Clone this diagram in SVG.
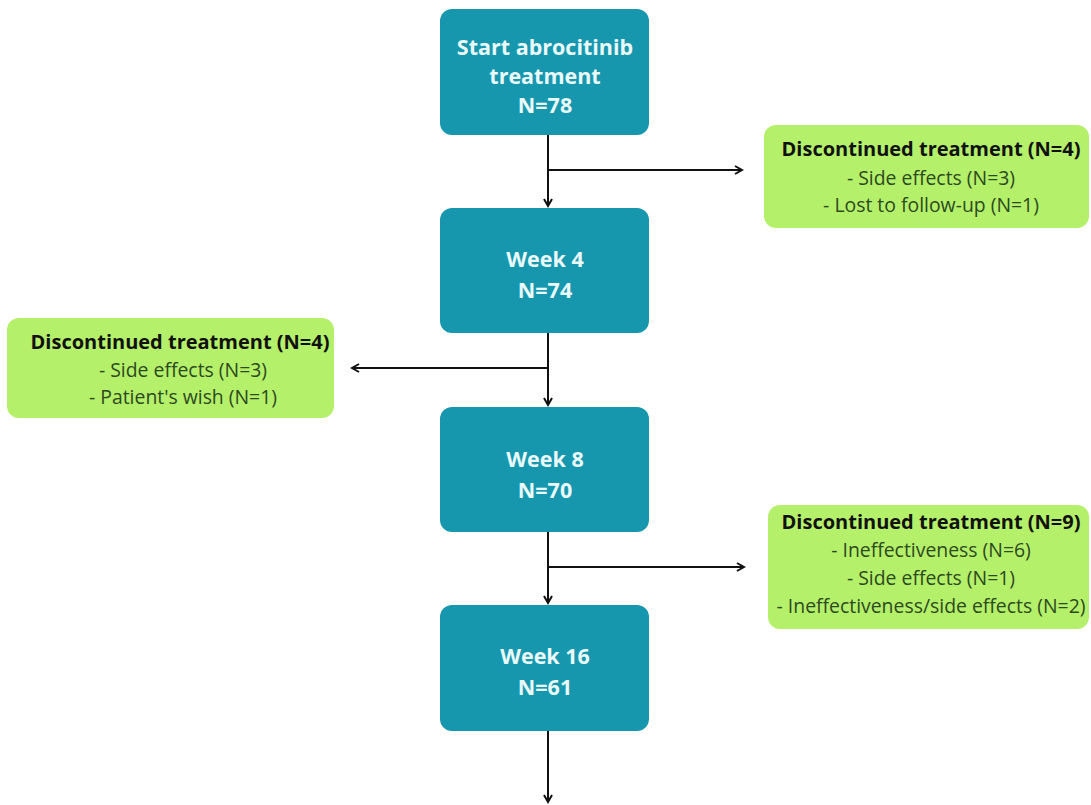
<svg xmlns="http://www.w3.org/2000/svg" width="1091" height="805" viewBox="0 0 1091 805">
<style>
.main rect{fill:#1797ae;}
.main text{font-family:"Open Sans","Liberation Sans",sans-serif;font-weight:bold;font-size:21.5px;fill:#eafafa;text-anchor:middle;}
.side rect{fill:#b5f06b;}
.side text{font-family:"Open Sans","Liberation Sans",sans-serif;font-size:19.4px;fill:#2c4a1e;text-anchor:middle;}
.side text.t{font-weight:bold;fill:#111;font-size:20px;}
.conn line{stroke:#111;stroke-width:2;fill:none;}
</style>
<defs>
<marker id="ah" markerWidth="10" markerHeight="10" refX="8" refY="5" orient="auto" markerUnits="userSpaceOnUse">
<path d="M1,1 L8,5 L1,9" fill="none" stroke="#111" stroke-width="2"/>
</marker>
</defs>
<rect width="1091" height="805" fill="#ffffff"/>
<g class="conn">
<line x1="548" y1="135" x2="548" y2="206" marker-end="url(#ah)"/>
<line x1="548" y1="170" x2="742" y2="170" marker-end="url(#ah)"/>
<line x1="548" y1="333" x2="548" y2="405" marker-end="url(#ah)"/>
<line x1="548" y1="368" x2="352" y2="368" marker-end="url(#ah)"/>
<line x1="548" y1="532" x2="548" y2="603" marker-end="url(#ah)"/>
<line x1="548" y1="567" x2="744" y2="567" marker-end="url(#ah)"/>
<line x1="548" y1="731" x2="548" y2="802" marker-end="url(#ah)"/>
</g>
<g id="n1" class="main"><rect x="440" y="9" width="209" height="126" rx="12"/>
<text x="545" y="55">Start abrocitinib</text><text x="545" y="84">treatment</text><text x="545" y="113">N=78</text></g>
<g id="n2" class="main"><rect x="440" y="208" width="209" height="125" rx="12"/>
<text x="545" y="267">Week 4</text><text x="545" y="298">N=74</text></g>
<g id="n3" class="main"><rect x="440" y="407" width="209" height="125" rx="12"/>
<text x="545" y="467">Week 8</text><text x="545" y="498">N=70</text></g>
<g id="n4" class="main"><rect x="440" y="605" width="209" height="126" rx="12"/>
<text x="545" y="664">Week 16</text><text x="545" y="695">N=61</text></g>
<g id="d1" class="side"><rect x="764" y="125" width="325" height="103" rx="12"/>
<text class="t" x="931" y="156">Discontinued treatment (N=4)</text>
<text x="931" y="185">- Side effects (N=3)</text>
<text x="931" y="212">- Lost to follow-up (N=1)</text></g>
<g id="d2" class="side"><rect x="7" y="318" width="327" height="100" rx="12"/>
<text class="t" x="180" y="349">Discontinued treatment (N=4)</text>
<text x="183" y="377">- Side effects (N=3)</text>
<text x="183" y="404">- Patient's wish (N=1)</text></g>
<g id="d3" class="side"><rect x="768" y="505" width="321" height="124" rx="12"/>
<text class="t" x="931" y="529">Discontinued treatment (N=9)</text>
<text x="931" y="557">- Ineffectiveness (N=6)</text>
<text x="931" y="585">- Side effects (N=1)</text>
<text x="931" y="613">- Ineffectiveness/side effects (N=2)</text></g>
</svg>
